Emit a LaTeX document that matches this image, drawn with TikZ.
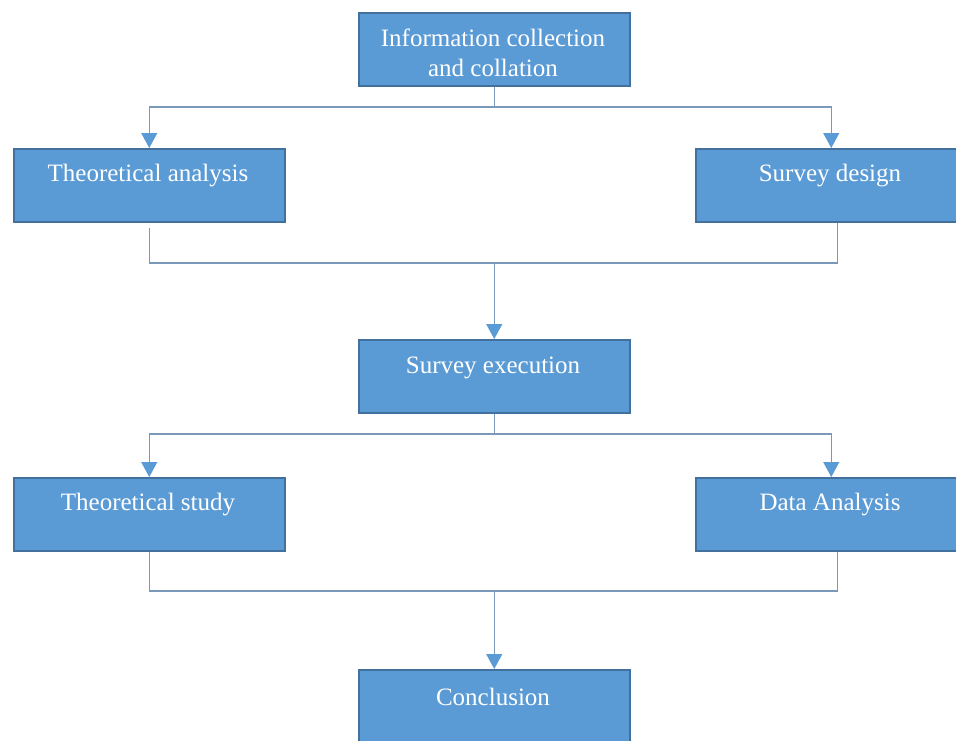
\documentclass[tikz,border=0pt]{standalone}
\usepackage{fontspec}
\setmainfont{Liberation Serif}
\usetikzlibrary{arrows.meta,calc}
\definecolor{boxblue}{HTML}{5B9BD5}
\definecolor{boxedge}{HTML}{41719C}
\definecolor{linegray}{HTML}{7A98B8}
\tikzset{
  box/.style={draw=boxedge, fill=boxblue, line width=1.5pt, minimum width=271pt, minimum height=73pt, anchor=north west, inner sep=0pt},
  txt/.style={text=white, font=\fontsize{25}{30}\selectfont, align=center, inner sep=0pt},
  conn/.style={draw=linegray, line width=1.2pt},
  arr/.style={conn, -{Triangle[width=16pt,length=15pt,color=boxblue]}}
}
\begin{document}
\begin{tikzpicture}[x=1pt,y=-1pt]
\useasboundingbox (0,0) rectangle (956,740);
\clip (0,0) rectangle (956,740);
% boxes
\node[box] (info) at (358,12) {};
\node[txt] (infot) at (493,53) {Information collection\\and collation};
\node[box] (ta) at (13,148) {};
\node[txt] (tat) at (148,176) {Theoretical analysis};
\node[box] (sd) at (695,148) {};
\node[txt] (sdt) at (830,176) {Survey design};
\node[box] (se) at (358,339) {};
\node[txt] (set) at (493,368) {Survey execution};
\node[box] (ts) at (13,477) {};
\node[txt] (tst) at (148,505) {Theoretical study};
\node[box] (da) at (695,477) {};
\node[txt] (dat) at (830,505) {Data Analysis};
\node[box] (co) at (358,669) {};
\node[txt] (cot) at (493,697) {Conclusion};
% junctions
\coordinate (j0) at (info.south |- 0,107);
\coordinate (j1) at (se.north |- 0,263);
\coordinate (j2) at (se.south |- 0,434);
\coordinate (j3) at (co.north |- 0,591);
% connectors
\draw[conn] (info.south) -- (j0);
\draw[arr] (j0) -| (ta.north);
\draw[arr] (j0) -| (sd.north);
\draw[conn] ([yshift=-5pt]ta.south) |- (j1) -| ([xshift=6pt]sd.south);
\draw[arr] (j1) -- (se.north);
\draw[conn] (se.south) -- (j2);
\draw[arr] (j2) -| (ts.north);
\draw[arr] (j2) -| (da.north);
\draw[conn] (ts.south) |- (j3) -| ([xshift=6pt]da.south);
\draw[arr] (j3) -- (co.north);
\end{tikzpicture}
\end{document}
